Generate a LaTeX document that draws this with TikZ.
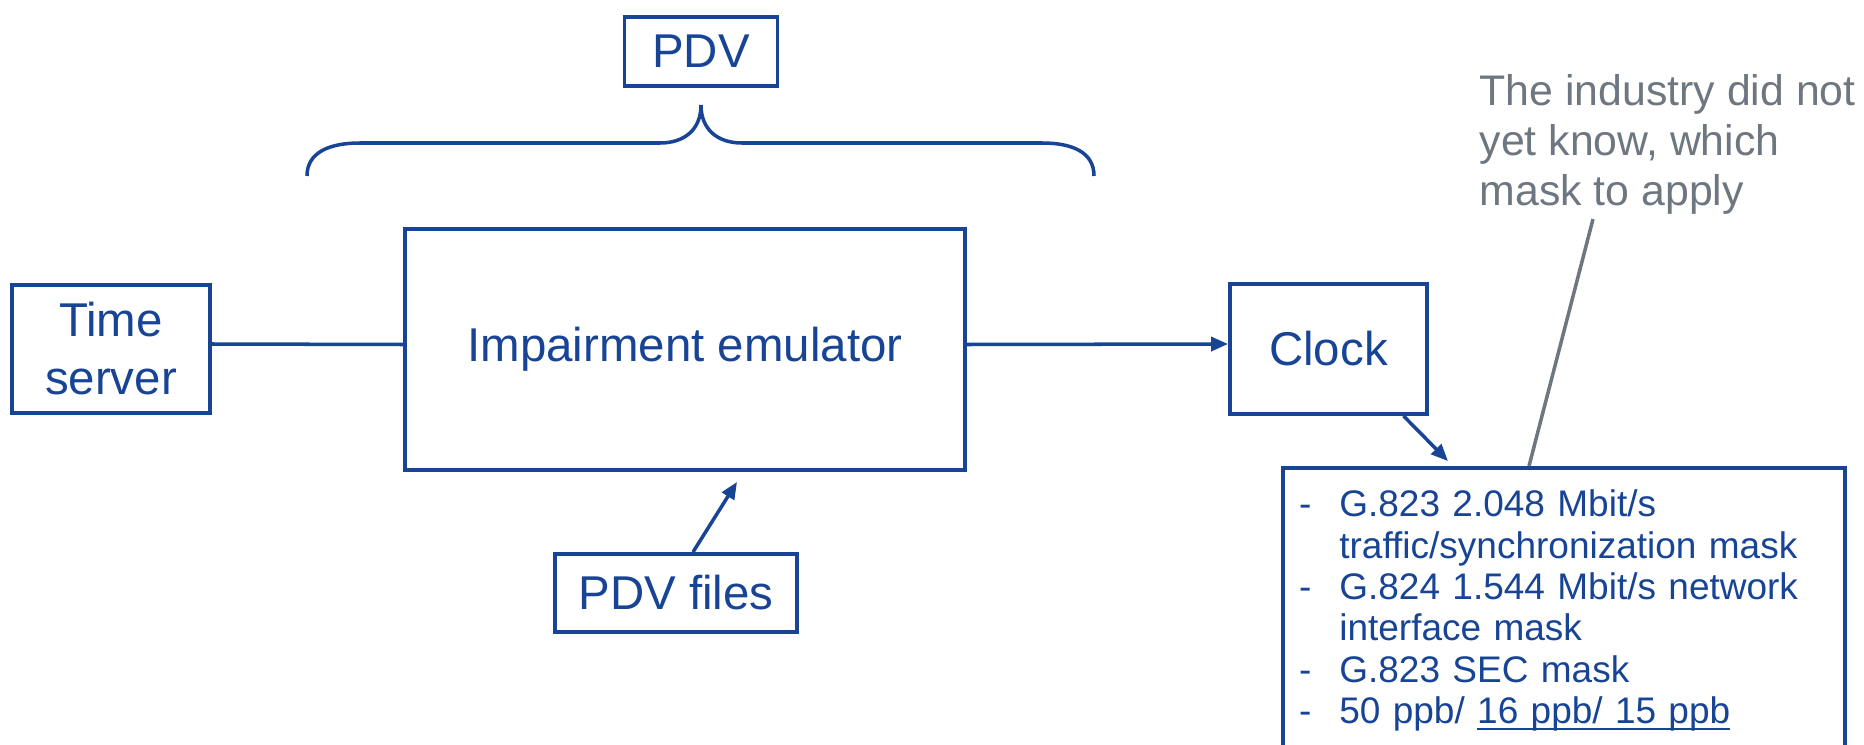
\documentclass[tikz,border=0pt]{standalone}
\usepackage{fontspec}
\setmainfont{Liberation Sans}
\usepackage{xcolor}
\usetikzlibrary{arrows.meta}

\definecolor{boxblue}{RGB}{24,68,150}
\definecolor{notegray}{RGB}{110,119,128}
\newcommand{\ppbline}[1]{\setbox0\hbox{#1}\rlap{\rule[-0.17em]{\wd0}{0.06em}}\box0}

\begin{document}
\begin{tikzpicture}[>={Triangle[length=1.7mm,width=1.4mm]},
  box/.style={draw=boxblue,line width=1.1pt,text=boxblue,inner sep=0pt,align=center,
    font=\fontsize{13.5}{16.5}\selectfont},
  link/.style={boxblue,line width=1pt}]
  \useasboundingbox (0,0) rectangle (18.64,7.44);
  \node[box,minimum width=1.98cm,minimum height=1.28cm] (ts) at (1.11,3.95) {Time\\server};
  \node[box,minimum width=5.60cm,minimum height=2.41cm] (emu) at (6.85,3.945) {Impairment emulator};
  \node[box,minimum width=1.97cm,minimum height=1.30cm] (clock) at (13.285,3.95) {Clock};
  \node[box,minimum width=1.53cm,minimum height=0.69cm] (pdv) at (7.01,6.925) {PDV};
  \node[box,minimum width=2.42cm,minimum height=0.78cm] (files) at (6.76,1.51) {PDV files};
  \node[box,minimum width=5.62cm,minimum height=2.88cm,text width=5.30cm,inner xsep=0.16cm,
    align=left,font=\fontsize{10.53}{11.78}\selectfont] (mask) at (15.64,1.32) {%
    \begin{tabular}{@{}l@{\hspace{0.28cm}}l@{}}
      - & G.823 2.048 Mbit/s\\
        & traffic/synchronization mask\\
      - & G.824 1.544 Mbit/s network\\
        & interface mask\\
      - & G.823 SEC mask\\
      - & 50 ppb/ \ppbline{16 ppb/ 15 ppb}
    \end{tabular}};
  \node[text=notegray,align=left,inner sep=0pt,anchor=north west,
    font=\fontsize{12.18}{14.2}\selectfont] (note) at (14.79,6.70)
    {The industry did not\\yet know, which\\mask to apply};

  % brace over the emulator
  \draw[link] (3.07,5.68) .. controls (3.07,5.92) and (3.30,6.01) .. (3.60,6.01)
    -- (6.60,6.01) .. controls (6.85,6.01) and (7.01,6.15) .. (7.01,6.39)
    .. controls (7.01,6.15) and (7.17,6.01) .. (7.42,6.01)
    -- (10.42,6.01) .. controls (10.72,6.01) and (10.94,5.92) .. (10.94,5.68);

  \draw[link] ([yshift=0.05cm]ts.east) -- ([yshift=0.05cm]emu.west);
  \draw[link,->] ([yshift=0.05cm]emu.east) -- ([yshift=0.05cm]clock.west);
  \draw[link,->] ([xshift=0.17cm]files.north) -- ([xshift=0.52cm,yshift=-0.10cm]emu.south);
  \draw[link,->] ([xshift=0.75cm]clock.south) -- ([xshift=-1.16cm,yshift=0.05cm]mask.north);
  \draw[notegray,line width=1pt] ([xshift=1.14cm,yshift=-0.04cm]note.south west)
    -- ([xshift=-0.35cm]mask.north);
\end{tikzpicture}
\end{document}
